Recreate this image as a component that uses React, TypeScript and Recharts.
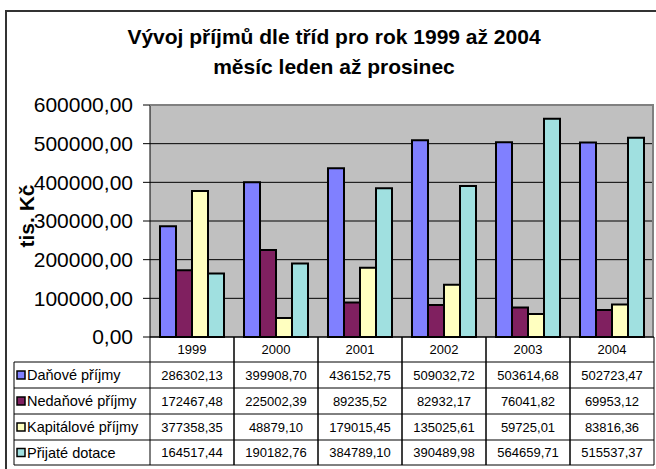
import { BarChart, Bar, XAxis, YAxis, CartesianGrid } from 'recharts';

const years = ['1999', '2000', '2001', '2002', '2003', '2004'];
const danove = [286302.13, 399908.7, 436152.75, 509032.72, 503614.68, 502723.47];
const nedanove = [172467.48, 225002.39, 89235.52, 82932.17, 76041.82, 69953.12];
const kapitalove = [377358.35, 48879.1, 179015.45, 135025.61, 59725.01, 83816.36];
const dotace = [164517.44, 190182.76, 384789.1, 390489.98, 564659.71, 515537.37];
const yTicks = [0, 100000, 200000, 300000, 400000, 500000, 600000];

const series = [
  { key: 'danove', name: 'Daňové příjmy', color: '#8080FF', values: danove },
  { key: 'nedanove', name: 'Nedaňové příjmy', color: '#802060', values: nedanove },
  { key: 'kapitalove', name: 'Kapitálové příjmy', color: '#FFFFC0', values: kapitalove },
  { key: 'dotace', name: 'Přijaté dotace', color: '#A0E0E0', values: dotace },
];

const data = years.map((year, i) => {
  const row: Record<string, string | number> = { year };
  series.forEach((s) => (row[s.key] = s.values[i]));
  return row;
});

const FONT = '"Liberation Sans", Arial, sans-serif';
const W = 656;
const H = 469;
const PLOT_LEFT = 150;
const PLOT_TOP = 105;
const PLOT_RIGHT = 654;
const PLOT_BOTTOM = 337;
const BAND = (PLOT_RIGHT - PLOT_LEFT) / years.length;
// horizontal lines of the data table (header row + 4 series rows)
const ROW_LINES = [337, 362, 388, 414, 440, 465];
const LEGEND_LEFT = 14;

const fmt = (v: number) => v.toFixed(2).replace('.', ',');

function TableColumn(props: any) {
  const { x, payload, index } = props;
  const l = x - BAND / 2;
  const r = x + BAND / 2;
  const top = ROW_LINES[0];
  const bottom = ROW_LINES[ROW_LINES.length - 1];
  return (
    <g>
      <line x1={l} y1={top} x2={l} y2={bottom} stroke="#000" strokeWidth={1} />
      <line x1={r} y1={top} x2={r} y2={bottom} stroke="#000" strokeWidth={1} />
      {ROW_LINES.slice(1).map((y) => (
        <line key={y} x1={l} y1={y} x2={r} y2={y} stroke="#000" strokeWidth={1} />
      ))}
      <text x={x} y={(ROW_LINES[0] + ROW_LINES[1]) / 2} textAnchor="middle" dominantBaseline="central"
        fontSize={13} fontFamily={FONT} fill="#000">
        {payload.value}
      </text>
      {series.map((s, i) => (
        <text key={s.key} x={x} y={(ROW_LINES[i + 1] + ROW_LINES[i + 2]) / 2} textAnchor="middle"
          dominantBaseline="central" fontSize={13} fontFamily={FONT} fill="#000">
          {fmt(s.values[index])}
        </text>
      ))}
    </g>
  );
}

export default function App() {
  return (
    <div style={{ position: 'absolute', left: 0, top: 0, width: W, height: H, background: '#fff', overflow: 'hidden' }}>
      <div style={{ position: 'absolute', left: 5, top: 10, width: W, height: H, borderLeft: '2px solid #333', borderTop: '2px solid #333' }} />
      <div style={{ position: 'absolute', left: 0, width: 668, top: 22, textAlign: 'center', fontFamily: FONT, fontWeight: 'bold', fontSize: 21, lineHeight: '30px', color: '#000' }}>
        Vývoj příjmů dle tříd pro rok 1999 až 2004<br />měsíc leden až prosinec
      </div>

      <div style={{ position: 'absolute', left: 0, top: 0 }}>
        <BarChart width={W} height={H} data={data}
          margin={{ top: PLOT_TOP, right: W - PLOT_RIGHT, left: 10, bottom: 0 }}
          barCategoryGap={10} barGap={0}>
          <CartesianGrid vertical={false} stroke="#000" fill="#C0C0C0" fillOpacity={1} />
          <XAxis dataKey="year" height={H - PLOT_BOTTOM} tickLine={false} axisLine={{ stroke: '#000' }}
            tick={<TableColumn />} interval={0} />
          <YAxis width={PLOT_LEFT - 10} domain={[0, 600000]} ticks={yTicks} tickFormatter={fmt}
            tickSize={7} tickMargin={10} axisLine={{ stroke: '#000' }} tickLine={{ stroke: '#000' }}
            tick={{ fontSize: 21, fill: '#000', fontFamily: FONT }} />
          {series.map((s) => (
            <Bar key={s.key} dataKey={s.key} name={s.name} fill={s.color} stroke="#000" strokeWidth={2}
              isAnimationActive={false} />
          ))}
        </BarChart>
      </div>

      <div style={{ position: 'absolute', left: PLOT_LEFT, top: PLOT_TOP - 1, width: PLOT_RIGHT - PLOT_LEFT, height: PLOT_BOTTOM - PLOT_TOP, borderTop: '2px solid #808080', borderRight: '2px solid #808080', boxSizing: 'border-box', pointerEvents: 'none' }} />

      <svg style={{ position: 'absolute', left: 0, top: 0 }} width={W} height={H}>
        <text transform="translate(26,216) rotate(-90)" textAnchor="middle" dominantBaseline="central"
          fontSize={21} fontWeight="bold" fontFamily={FONT} fill="#000">
          tis. Kč
        </text>
        <line x1={LEGEND_LEFT} y1={ROW_LINES[1]} x2={LEGEND_LEFT} y2={ROW_LINES[5]} stroke="#000" />
        {ROW_LINES.slice(1).map((y) => (
          <line key={y} x1={LEGEND_LEFT} y1={y} x2={PLOT_LEFT} y2={y} stroke="#000" />
        ))}
        {series.map((s, i) => {
          const cy = (ROW_LINES[i + 1] + ROW_LINES[i + 2]) / 2;
          return (
            <g key={s.key}>
              <rect x={17} y={cy - 4} width={8} height={8} fill={s.color} stroke="#000" strokeWidth={1.5} />
              <text x={27} y={cy} dominantBaseline="central" fontSize={14.5} fontFamily={FONT} fill="#000">
                {s.name}
              </text>
            </g>
          );
        })}
      </svg>
    </div>
  );
}
